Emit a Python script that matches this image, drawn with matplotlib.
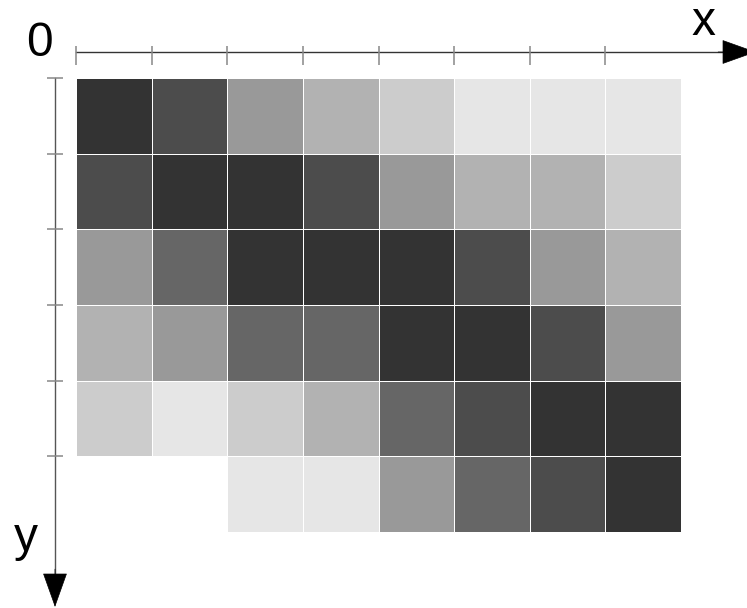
import matplotlib
matplotlib.use("Agg")
import matplotlib.pyplot as plt
from matplotlib.colors import ListedColormap
import numpy as np

# niveis de cinza de cada celula (0 = mais escuro), None = sem celula
niveis_cinza = ['#333333', '#4c4c4c', '#666666', '#999999', '#b2b2b2', '#cccccc', '#e6e6e6']

linha0 = [0, 1, 3, 4, 5, 6, 6, 6]
linha1 = [1, 0, 0, 1, 3, 4, 4, 5]
linha2 = [3, 2, 0, 0, 0, 1, 3, 4]
linha3 = [4, 3, 2, 2, 0, 0, 1, 3]
linha4 = [5, 6, 5, 4, 2, 1, 0, 0]
linha5 = [None, None, 6, 6, 3, 2, 1, 0]

xticks = [0, 1, 2, 3, 4, 5, 6, 7]
yticks = [0, 1, 2, 3, 4, 5]

W, H = 747, 608
fig = plt.figure(figsize=(W / 100, H / 100), dpi=100)
ax = fig.add_axes([76 / W, 1 - 532 / H, 605 / W, 454 / H])

grade = np.array([linha0, linha1, linha2, linha3, linha4, linha5], dtype=float)
grade = np.ma.masked_invalid(grade)
ax.pcolormesh(grade, cmap=ListedColormap(niveis_cinza), vmin=-0.5, vmax=6.5,
              edgecolors='white', linewidth=0.6)
ax.set_xlim(0, 8)
ax.set_ylim(6, 0)
ax.axis('off')

# escala: pixels por unidade
px = 605 / 8
py = 454 / 6

seta = dict(arrowstyle='-|>,head_length=1.15,head_width=0.41',
            mutation_scale=20, color='black', lw=0.5, shrinkA=0, shrinkB=0)

# eixo x
y_eixo = -26 / py
x_ponta = (756 - 76) / px
ax.plot([0, x_ponta - 0.3], [y_eixo, y_eixo], color='#333333', lw=1.0, clip_on=False)
ax.annotate('', xy=(x_ponta, y_eixo), xytext=(x_ponta - 0.5, y_eixo),
            annotation_clip=False, arrowprops=seta)
ax.vlines(xticks, -32 / py, -13 / py, colors='#888888', lw=1.1, clip_on=False)

# eixo y
x_eixo = -21 / px
y_ponta = (607 - 78) / py
ax.plot([x_eixo, x_eixo], [0, y_ponta - 0.3], color='#555555', lw=1.0, clip_on=False)
ax.annotate('', xy=(x_eixo, y_ponta), xytext=(x_eixo, y_ponta - 0.5),
            annotation_clip=False, arrowprops=seta)
ax.hlines(yticks, -29 / px, -13 / px, colors='#888888', lw=1.1, clip_on=False)

fonte = dict(family='Liberation Sans', fontsize=34.5, color='black')
ax.text(-37 / px, -21.5 / py, '0', ha='center', va='baseline', **fonte)
ax.text(627 / px, -43 / py, 'x', ha='center', va='baseline', **fonte)
ax.text(-50 / px, 473 / py, 'y', ha='center', va='baseline', **fonte)

fig.savefig('out.png', dpi=100)
